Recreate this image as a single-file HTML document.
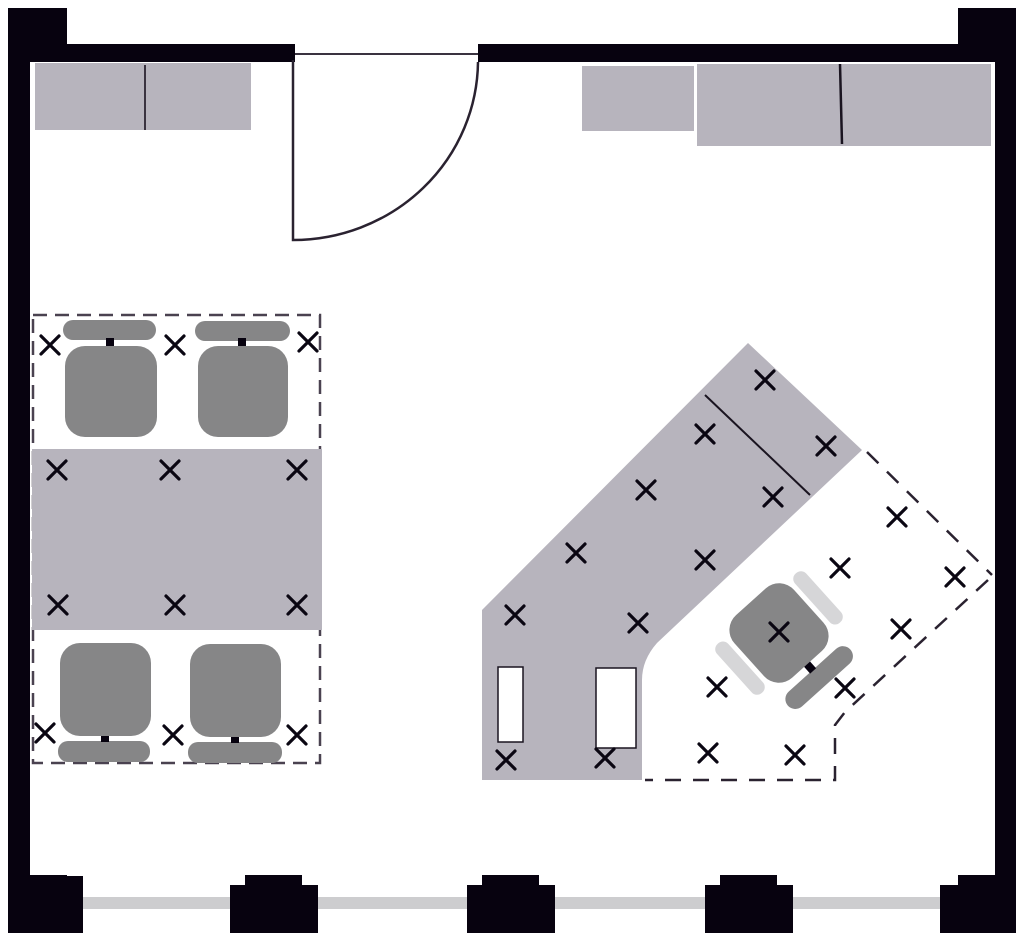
<!DOCTYPE html>
<html><head><style>html,body{margin:0;padding:0;background:#fff}svg{display:block}</style></head>
<body>
<svg width="1024" height="939" viewBox="0 0 1024 939" xmlns="http://www.w3.org/2000/svg">
<defs>
<g id="x"><path d="M-9,-9L9,9M9,-9L-9,9" stroke="#0a0612" stroke-width="3.2" stroke-linecap="round"/></g>
</defs>
<!-- walls -->
<g fill="#07020f">
<rect x="8" y="8" width="59" height="52"/>
<rect x="8" y="44" width="287" height="18"/>
<rect x="8" y="8" width="22" height="925"/>
<rect x="478" y="44" width="538" height="18"/>
<rect x="958" y="8" width="58" height="52"/>
<rect x="995" y="8" width="21" height="925"/>
</g>
<line x1="295" y1="54" x2="478" y2="54" stroke="#3a3340" stroke-width="2"/>
<!-- window line -->
<rect x="80" y="897" width="880" height="12" fill="#cdcdcf"/>
<!-- pillars -->
<g fill="#07020f">
<path d="M8,875H67V875H67V876H83V885H83V933H8Z"/>
<path d="M8,860H30V933H8Z"/>
<path d="M8,875H67V887H83V933H8Z"/>
<path d="M245,875H302V885H318V933H230V885H245Z"/>
<path d="M482,875H539V885H555V933H467V885H482Z"/>
<path d="M720,875H777V885H793V933H705V885H720Z"/>
<path d="M958,875H1016V933H940V885H958Z"/>
</g>
<!-- door -->
<path d="M293,60V240A185,180 0 0 0 478,62" fill="none" stroke="#2a2230" stroke-width="2.5"/>
<!-- cabinets -->
<g fill="#b7b4bd">
<rect x="35" y="63" width="216" height="67"/>
<rect x="582" y="66" width="112" height="65"/>
<rect x="697" y="64" width="294" height="82"/>
</g>
<line x1="145" y1="65" x2="145" y2="130" stroke="#3a3340" stroke-width="2"/>
<line x1="840" y1="64" x2="842" y2="144" stroke="#1a1420" stroke-width="2.5"/>
<!-- left meeting area -->
<rect x="33" y="315" width="287" height="448" fill="none" stroke="#4a4250" stroke-width="2.5" stroke-dasharray="14,8"/>
<rect x="32" y="449" width="290" height="181" fill="#b7b4bd"/>
<g fill="#868687">
<rect x="63" y="320" width="93" height="20" rx="10"/>
<rect x="65" y="346" width="92" height="91" rx="20"/>
<rect x="195" y="321" width="95" height="20" rx="10"/>
<rect x="198" y="346" width="90" height="91" rx="20"/>
<rect x="60" y="643" width="91" height="93" rx="20"/>
<rect x="58" y="741" width="92" height="21" rx="10"/>
<rect x="190" y="644" width="91" height="93" rx="20"/>
<rect x="188" y="742" width="94" height="21" rx="10"/>
</g>
<g fill="#07020f">
<rect x="106" y="338" width="8" height="8"/>
<rect x="238" y="338" width="8" height="8"/>
<rect x="101" y="736" width="8" height="6"/>
<rect x="231" y="737" width="8" height="6"/>
</g>
<g>
<use href="#x" x="50" y="345"/><use href="#x" x="175" y="345"/><use href="#x" x="308" y="342"/>
<use href="#x" x="57" y="470"/><use href="#x" x="170" y="470"/><use href="#x" x="297" y="470"/>
<use href="#x" x="58" y="605"/><use href="#x" x="175" y="605"/><use href="#x" x="297" y="605"/>
<use href="#x" x="45" y="733"/><use href="#x" x="173" y="735"/><use href="#x" x="297" y="735"/>
</g>
<!-- angled desk -->
<path d="M748,343L862,450L657,643Q642,660 642,680V780H482V610Z" fill="#b7b4bd"/>
<line x1="705" y1="395" x2="810" y2="495" stroke="#1a1420" stroke-width="2"/>
<rect x="498" y="667" width="25" height="75" fill="#fff" stroke="#1a1420" stroke-width="1.5"/>
<rect x="596" y="668" width="40" height="80" fill="#fff" stroke="#1a1420" stroke-width="1.5"/>
<path d="M867,452L992,575M988,580L845,712L835,725V780H645" fill="none" stroke="#2a2230" stroke-width="2.5" stroke-dasharray="16,12"/>
<!-- chair -->
<g transform="translate(779,633) rotate(-42)">
<rect x="-40" y="-42" width="80" height="84" rx="20" fill="#868687"/>
<rect x="-60" y="-33" width="15" height="66" rx="7" fill="#d6d6d8"/>
<rect x="45" y="-33" width="15" height="66" rx="7" fill="#d6d6d8"/>
<rect x="-42" y="50" width="84" height="20" rx="10" fill="#868687"/>
<rect x="-4" y="42" width="8" height="9" fill="#07020f"/>
</g>
<g>
<use href="#x" x="765" y="380"/><use href="#x" x="705" y="434"/><use href="#x" x="826" y="446"/>
<use href="#x" x="646" y="490"/><use href="#x" x="773" y="497"/><use href="#x" x="576" y="553"/>
<use href="#x" x="705" y="560"/><use href="#x" x="515" y="615"/><use href="#x" x="638" y="623"/>
<use href="#x" x="506" y="760"/><use href="#x" x="605" y="758"/>
<use href="#x" x="897" y="517"/><use href="#x" x="840" y="568"/><use href="#x" x="955" y="577"/>
<use href="#x" x="901" y="629"/><use href="#x" x="779" y="632"/><use href="#x" x="717" y="687"/>
<use href="#x" x="845" y="688"/><use href="#x" x="708" y="753"/><use href="#x" x="795" y="755"/>
</g>
</svg>
</body></html>
